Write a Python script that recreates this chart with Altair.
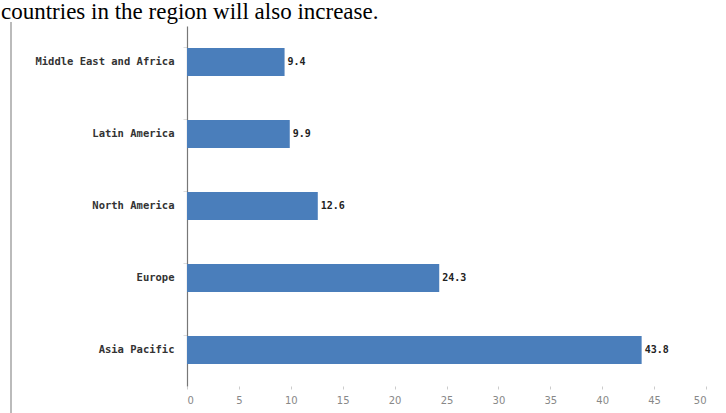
import altair as alt
import pandas as pd

regions = ["Middle East and Africa", "Latin America", "North America", "Europe", "Asia Pacific"]
shares = [9.4, 9.9, 12.6, 24.3, 43.8]
value_labels = ["9.4", "9.9", "12.6", "24.3", "43.8"]
x_ticks = [0, 5, 10, 15, 20, 25, 30, 35, 40, 45, 50]
caption = ["countries in the region will also increase."]

df = pd.DataFrame({"region": regions, "share": shares, "label": value_labels})
cap = pd.DataFrame({"t": caption})

W, H = 519, 360
PL, PT = 187, 26

y_enc = alt.Y("region:N", sort=regions, title=None,
              scale=alt.Scale(paddingInner=0.61, paddingOuter=0.305),
              axis=alt.Axis(labelFont="DejaVu Sans Mono", labelFontSize=10.5, labelColor="#333333",
                            labelFontWeight="bold", labelPadding=9,
                            domainColor="#777777", domainWidth=1.2,
                            tickColor="#dddddd", tickSize=4, bandPosition=0, grid=False))
x_enc = alt.X("share:Q", title=None,
              scale=alt.Scale(domain=[0, 50], nice=False),
              axis=alt.Axis(values=x_ticks, domain=False, tickColor="#cccccc", tickSize=3,
                            labelFont="DejaVu Sans", labelFontSize=10, labelColor="#888888",
                            labelPadding=6, grid=False))

bars = alt.Chart(df).mark_bar(color="#4a7ebb").encode(x=x_enc, y=y_enc)
labels = alt.Chart(df).mark_text(align="left", dx=3, font="DejaVu Sans Mono", fontSize=10,
                                 fontWeight="bold", color="#222222").encode(
    x="share:Q", y=alt.Y("region:N", sort=regions), text="label:N")

caption_mark = alt.Chart(cap).mark_text(align="left", baseline="top", font="Liberation Serif",
                                        fontSize=23, color="#000000").encode(
    x=alt.value(-PL + 1), y=alt.value(-PT + 1), text="t:N")

border = alt.Chart(cap).mark_rule(color="#bbbbbb", strokeWidth=2).encode(
    x=alt.value(-PL + 11), y=alt.value(-PT + 22), y2=alt.value(H + 30))

chart = alt.layer(bars, labels, caption_mark, border).properties(
    width=W, height=H,
    background="white",
    autosize=alt.AutoSizeParams(type="none"),
    padding={"left": PL, "top": PT, "right": 20, "bottom": 27},
).configure_view(strokeWidth=0, stroke="transparent")

chart.save("out.html", embed_options={"renderer": "svg", "actions": False})
